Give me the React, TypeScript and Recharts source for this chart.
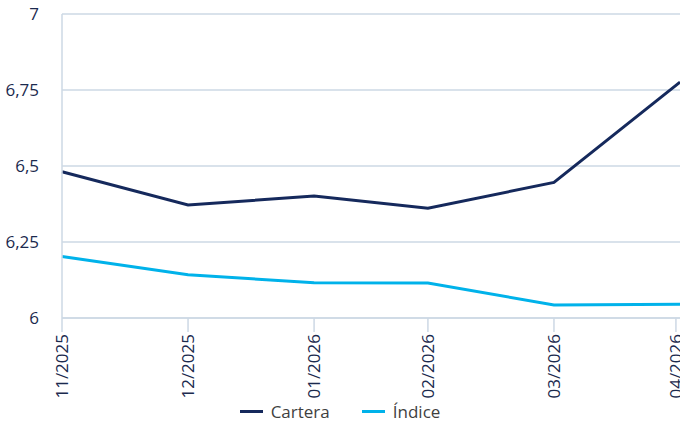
import { LineChart, Line, XAxis, YAxis, CartesianGrid } from "recharts";

// fechas de cada punto (fin de mes; el último es la fecha de corte)
const pointDates = ["2025-11-30", "2025-12-31", "2026-01-31", "2026-02-28", "2026-03-31", "2026-05-01"];
const cartera = [6.481, 6.372, 6.401, 6.361, 6.446, 6.776];
const indice = [6.202, 6.142, 6.116, 6.115, 6.043, 6.045];

const tickDates = ["2025-11-30", "2025-12-31", "2026-01-31", "2026-02-28", "2026-03-31", "2026-04-30"];
const tickLabels = ["11/2025", "12/2025", "01/2026", "02/2026", "03/2026", "04/2026"];
const yTicks = [6, 6.25, 6.5, 6.75, 7];

const COLORS = {
  cartera: "#15295c",
  indice: "#00b2ea",
  grid: "#cdd8e5",
  axisText: "#1b2a4e",
  legendText: "#3f3f3f",
};

const FONT = "'Open Sans', sans-serif";

const toTs = (d: string) => {
  const [y, m, day] = d.split("-").map(Number);
  return Date.UTC(y, m - 1, day);
};

const data = pointDates.map((d, i) => ({ t: toTs(d), cartera: cartera[i], indice: indice[i] }));
const ticks = tickDates.map(toTs);
const labelByTs: Record<number, string> = Object.fromEntries(ticks.map((t, i) => [t, tickLabels[i]]));

function XTick({ x, y, payload }: { x?: number; y?: number; payload?: { value: number } }) {
  return (
    <g transform={`translate(${x},${y})`}>
      <text
        transform="rotate(-90)"
        textAnchor="end"
        dy="0.36em"
        fontSize={17}
        fontFamily={FONT}
        fill={COLORS.axisText}
      >
        {labelByTs[payload?.value ?? 0]}
      </text>
    </g>
  );
}

export default function App() {
  return (
    <div style={{ position: "absolute", left: 0, top: 0, width: 680, height: 425, overflow: "hidden", background: "#fff" }}>
      <LineChart width={680} height={425} data={data} margin={{ top: 14, right: 0, left: 0, bottom: 17 }}>
        <CartesianGrid vertical={false} stroke={COLORS.grid} strokeWidth={1.5} />
        <XAxis
          dataKey="t"
          type="number"
          scale="linear"
          domain={[toTs(pointDates[0]), toTs(pointDates[pointDates.length - 1])]}
          ticks={ticks}
          interval={0}
          height={90}
          tickSize={14}
          tickMargin={2}
          tickLine={{ stroke: COLORS.grid, strokeWidth: 1.5 }}
          axisLine={{ stroke: COLORS.grid, strokeWidth: 1.5 }}
          tick={<XTick />}
        />
        <YAxis
          domain={[6, 7]}
          ticks={yTicks}
          width={62}
          tickLine={false}
          tickMargin={17}
          axisLine={{ stroke: COLORS.grid, strokeWidth: 1.5 }}
          tickFormatter={(v: number) => String(v).replace(".", ",")}
          tick={{ fontSize: 17, fontFamily: FONT, fill: COLORS.axisText }}
        />
        <Line type="linear" dataKey="cartera" stroke={COLORS.cartera} strokeWidth={3} dot={false} isAnimationActive={false} />
        <Line type="linear" dataKey="indice" stroke={COLORS.indice} strokeWidth={3} dot={false} isAnimationActive={false} />
      </LineChart>
      <div
        style={{
          position: "absolute",
          top: 400,
          left: 0,
          width: 680,
          display: "flex",
          justifyContent: "center",
          gap: 32,
          fontFamily: FONT,
          fontSize: 17,
          color: COLORS.legendText,
        }}
      >
        <span style={{ display: "flex", alignItems: "center", gap: 8 }}>
          <span style={{ width: 23, height: 3, background: COLORS.cartera, display: "inline-block" }} />
          Cartera
        </span>
        <span style={{ display: "flex", alignItems: "center", gap: 8 }}>
          <span style={{ width: 23, height: 3, background: COLORS.indice, display: "inline-block" }} />
          Índice
        </span>
      </div>
    </div>
  );
}
